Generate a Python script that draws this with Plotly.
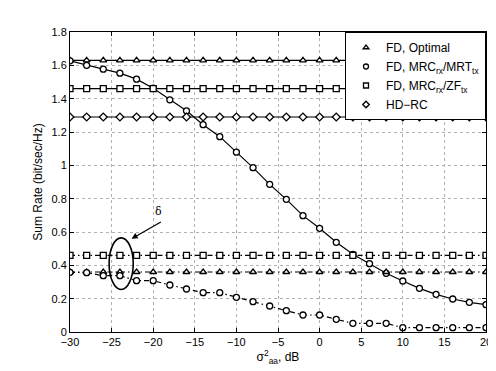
import plotly.graph_objects as go

# sigma_aa^2 in dB, markers every 2 dB
snr_db = list(range(-30, 21, 2))

# upper group (solid lines)
fd_opt_hi = [1.63] * len(snr_db)
fd_zf_hi = [1.46] * len(snr_db)
hd_rc = [1.29] * len(snr_db)
fd_mrt_hi = [1.627, 1.60, 1.577, 1.553, 1.517, 1.463, 1.393, 1.327, 1.244, 1.172,
             1.079, 0.986, 0.886, 0.796, 0.698, 0.622, 0.538, 0.466, 0.41, 0.352,
             0.306, 0.262, 0.226, 0.198, 0.178, 0.164]

# lower group (dash-dot lines)
fd_opt_lo = [0.36] * len(snr_db)
fd_zf_lo = [0.46] * len(snr_db)
fd_mrt_lo = [0.358, 0.356, 0.338, 0.338, 0.308, 0.308, 0.282, 0.258, 0.236, 0.236,
             0.208, 0.182, 0.156, 0.128, 0.102, 0.102, 0.076, 0.052, 0.052, 0.052,
             0.026, 0.026, 0.026, 0.026, 0.026, 0.026]

legend_names = ["FD, Optimal", "FD, MRC<sub>rx</sub>/MRT<sub>tx</sub>",
                "FD, MRC<sub>rx</sub>/ZF<sub>tx</sub>", "HD\u2212RC"]
symbols = ["triangle-up", "circle", "square", "diamond"]

FONT = "Liberation Sans, Arial, sans-serif"

fig = go.Figure()

def marker(sym):
    return dict(symbol=sym, size=6, color="white", line=dict(color="black", width=1.3))

def add(y, symbol, dash):
    fig.add_trace(go.Scatter(
        x=snr_db, y=y, mode="lines+markers", showlegend=False,
        line=dict(color="black", width=1.2, dash=dash), marker=marker(symbol),
    ))

add(fd_opt_hi, "triangle-up", "solid")
add(fd_mrt_hi, "circle", "solid")
add(fd_zf_hi, "square", "solid")
add(hd_rc, "diamond", "solid")
add(fd_zf_lo, "square", "5px,3px,1.5px,3px")
add(fd_opt_lo, "triangle-up", "5px,3px,1.5px,3px")
add(fd_mrt_lo, "circle", "5px,3px,1.5px,3px")

# legend shows markers only
for name, sym in zip(legend_names, symbols):
    fig.add_trace(go.Scatter(x=[None], y=[None], mode="markers", name=name,
                             marker=dict(symbol=sym, size=5, color="white",
                                         line=dict(color="black", width=1.3))))

# ellipse marking the gap delta
fig.add_shape(type="circle", xref="x", yref="y", x0=-25.3, x1=-22.4, y0=0.255, y1=0.565,
              line=dict(color="black", width=1.6))
fig.add_annotation(x=-22.6, y=0.56, ax=-18.9, ay=0.665, xref="x", yref="y",
                   axref="x", ayref="y", showarrow=True, arrowhead=2, arrowsize=1,
                   arrowwidth=1.2, arrowcolor="black", text="")
fig.add_annotation(x=-19.4, y=0.725, text="\u03b4", showarrow=False,
                   font=dict(family="DejaVu Serif", size=11, color="black"))

axis_common = dict(showline=True, linecolor="black", linewidth=1, mirror="ticks",
                   ticks="inside", ticklen=4, tickcolor="black", automargin=False,
                   showgrid=True, gridcolor="#b0b0b0", griddash="dot", gridwidth=1,
                   zeroline=False, tickfont=dict(family=FONT, size=11, color="black"))

fig.update_xaxes(range=[-30, 20], dtick=5, tick0=-30,
                 title=dict(text="\u03c3<sup>2</sup><sub>aa</sub>, dB", standoff=2,
                            font=dict(family=FONT, size=12, color="black")),
                 **axis_common)
fig.update_yaxes(range=[0, 1.8], dtick=0.2, tick0=0,
                 title=dict(text="Sum Rate (bit/sec/Hz)", standoff=6,
                            font=dict(family=FONT, size=12, color="black")),
                 **axis_common)

# page body adds an 8px margin, so the figure is a bit smaller than the window
fig.update_layout(
    width=488, height=363,
    margin=dict(l=62, r=10, t=24, b=39),
    plot_bgcolor="white", paper_bgcolor="white",
    font=dict(family=FONT, size=12, color="black"),
    legend=dict(x=1, xanchor="right", y=1, yanchor="top",
                bgcolor="white", bordercolor="black", borderwidth=1,
                font=dict(family=FONT, size=12), itemwidth=30),
)

fig.write_html("out.html")
